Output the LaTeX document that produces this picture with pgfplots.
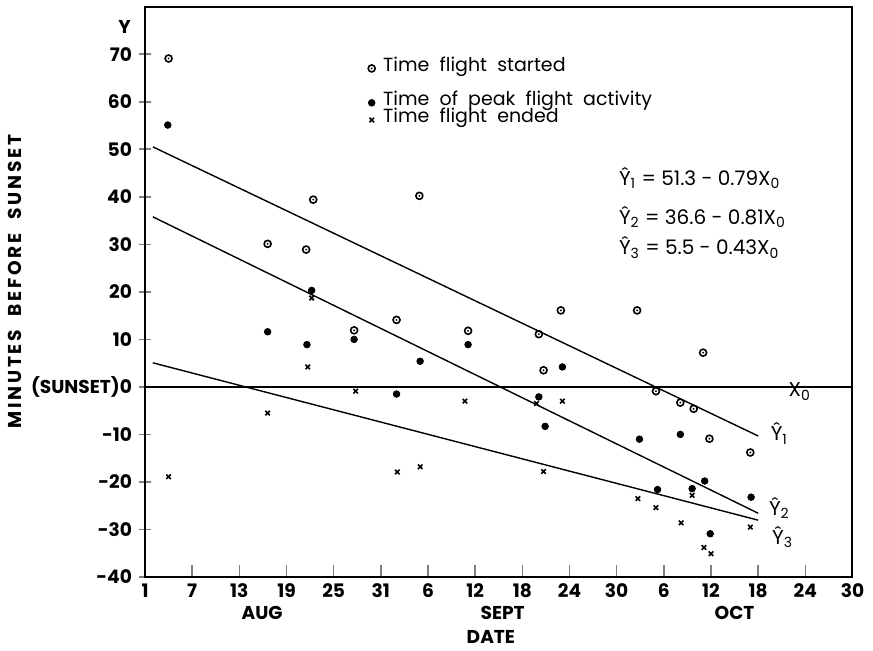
\documentclass[border=0pt]{standalone}
\usepackage{fontspec}
\setmainfont{Poppins}
\usepackage{pgfplots}
\pgfplotsset{compat=1.18}

% open circle with a dot in the centre
\pgfdeclareplotmark{odot}{%
  \pgfpathcircle{\pgfpointorigin}{\pgfplotmarksize}\pgfusepathqstroke
  \pgfpathcircle{\pgfpointorigin}{0.3\pgfplotmarksize}\pgfusepathqfill}

\newcommand\lblfont{\fontsize{9.3}{10}\selectfont\bfseries}
\newcommand\txtfont{\fontsize{9.5}{10}\selectfont}
\newcommand\eqfont{\fontsize{10}{11}\selectfont}

\begin{document}
\begin{tikzpicture}
\begin{axis}[
  scale only axis,
  width=353.75pt, height=285.15pt,
  xmin=0, xmax=90, ymin=-40, ymax=80,
  clip=false,
  xtick={0,6,...,90},
  xticklabels={1,7,13,19,25,31,6,12,18,24,30,6,12,18,24,30},
  ytick={-40,-30,...,70},
  yticklabels={-40,-30,-20,-10,(SUNSET)0,10,20,30,40,50,60,70},
  xtick pos=bottom, ytick pos=left,
  x tick style={line width=0.8pt}, y tick style={line width=0.8pt},
  xtick align=inside, ytick align=center,
  major tick length=6pt,
  tick label style={font=\lblfont},
  axis line style={line width=1pt},
  ylabel={MINUTES\ \ BEFORE\ \ SUNSET},
  every axis y label/.style={at={(axis description cs:0,0.518)}, xshift=-65pt,
    rotate=90, anchor=center, font=\lblfont\addfontfeatures{LetterSpace=15}},
  legend style={at={(axis cs:27.3,69.6)}, anchor=north west, draw=none, fill=none,
    font=\txtfont, row sep=0.7pt, column sep=4pt,
    nodes={inner sep=0pt, text height=5.3pt, text depth=2.6pt}},
  legend cell align=left,
  legend image code/.code={\draw[#1] plot coordinates {(0.1cm,0cm)};},
]
\addplot[only marks, mark=odot, mark size=1.75pt, line width=0.8pt] coordinates {
  (3,69.1) (15.6,30.1) (20.5,28.9) (21.4,39.4) (26.6,11.9) (32.0,14.1)
  (34.9,40.2) (41.1,11.8) (50.1,11.1) (50.7,3.5) (52.9,16.1) (62.6,16.1)
  (65.0,-0.9) (68.1,-3.3) (69.8,-4.6) (71.0,7.2) (71.8,-10.9) (77.0,-13.8)};
\addlegendimage{empty legend}
\addplot[only marks, mark=*, mark size=1.65pt] coordinates {
  (2.9,55.1) (15.6,11.6) (20.6,8.9) (21.2,20.3) (26.6,10.0) (32.0,-1.5)
  (35.0,5.4) (41.1,8.9) (50.1,-2.1) (50.9,-8.3) (53.1,4.2) (62.9,-11.0)
  (65.2,-21.6) (68.1,-10.0) (69.6,-21.4) (71.2,-19.8) (71.9,-30.9) (77.1,-23.2)};
\addplot[only marks, mark=x, mark size=1.6pt, line width=0.8pt] coordinates {
  (3.0,-18.9) (15.6,-5.5) (20.7,4.2) (21.2,18.7) (26.8,-0.9) (32.1,-17.9)
  (35.0,-16.8) (40.7,-3.0) (49.8,-3.5) (50.7,-17.8) (53.1,-3.0) (62.7,-23.5)
  (65.0,-25.4) (68.2,-28.6) (69.6,-22.8) (71.1,-33.8) (72.0,-35.1) (77.0,-29.5)};
\legend{Time\ \ flight\ \ started, \mbox{}, Time\ \ of\ \ peak\ \ flight\ \ activity,
  Time\ \ flight\ \ ended}

% sunset line and fitted lines
\addplot[forget plot, line width=0.7pt] coordinates {(0,0) (90,0)};
\addplot[forget plot, line width=0.7pt] coordinates {(1,50.51) (78,-10.32)};
\addplot[forget plot, line width=0.7pt] coordinates {(1,35.79) (78,-26.58)};
\addplot[forget plot, line width=0.7pt] coordinates {(1,5.07) (78,-28.04)};

\node[font=\lblfont] at (axis cs:-2.6,75.8) {Y};
\node[font=\lblfont] at (axis cs:14.9,-47.6) {AUG};
\node[font=\lblfont] at (axis cs:45.5,-47.6) {SEPT};
\node[font=\lblfont] at (axis cs:75,-47.6) {OCT};
\node[font=\lblfont] at (axis cs:44,-52.6) {DATE};

\node[font=\eqfont, anchor=west] at (axis cs:59.4,44) {\^{Y}\textsubscript{1} = 51.3 - 0.79X\textsubscript{0}};
\node[font=\eqfont, anchor=west] at (axis cs:59.4,35.8) {\^{Y}\textsubscript{2} = 36.6 - 0.81X\textsubscript{0}};
\node[font=\eqfont, anchor=west] at (axis cs:59.4,29.3) {\^{Y}\textsubscript{3} = 5.5 - 0.43X\textsubscript{0}};

\node[font=\eqfont] at (axis cs:83.3,-1) {X\textsubscript{0}};
\node[font=\eqfont] at (axis cs:80.7,-9.8) {\^{Y}\textsubscript{1}};
\node[font=\eqfont] at (axis cs:80.7,-25.5) {\^{Y}\textsubscript{2}};
\node[font=\eqfont] at (axis cs:81.1,-31.6) {\^{Y}\textsubscript{3}};
\end{axis}
\pgfresetboundingbox
\path[use as bounding box] (-72.5pt,-36.5pt) rectangle (364pt,288.5pt);
\end{tikzpicture}
\end{document}
